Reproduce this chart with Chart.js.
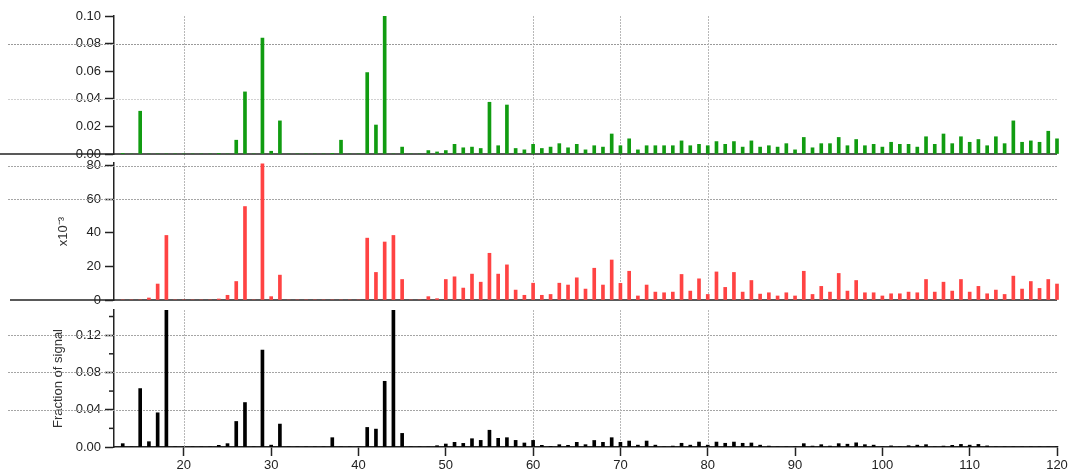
<!DOCTYPE html>
<html>
<head>
<meta charset="utf-8">
<script src="https://cdn.jsdelivr.net/npm/chart.js@4/dist/chart.umd.min.js"></script>
<style>
  body { margin: 0; background: #fff; }
  #wrap { position: relative; width: 1070px; height: 476px; }
  canvas { position: absolute; left: 0; }
</style>
</head>
<body>
<div id="wrap">
  <canvas id="chartTop" width="1070" height="170" style="top:0px"></canvas>
  <canvas id="chartMid" width="1070" height="176" style="top:140px"></canvas>
  <canvas id="chartBot" width="1070" height="186" style="top:290px"></canvas>
</div>
<script>
// m/z values 13..120
const mz = [13, 14, 15, 16, 17, 18, 19, 20, 21, 22, 23, 24, 25, 26, 27, 28, 29, 30, 31, 32,
  33, 34, 35, 36, 37, 38, 39, 40, 41, 42, 43, 44, 45, 46, 47, 48, 49, 50, 51, 52,
  53, 54, 55, 56, 57, 58, 59, 60, 61, 62, 63, 64, 65, 66, 67, 68, 69, 70, 71, 72,
  73, 74, 75, 76, 77, 78, 79, 80, 81, 82, 83, 84, 85, 86, 87, 88, 89, 90, 91, 92,
  93, 94, 95, 96, 97, 98, 99, 100, 101, 102, 103, 104, 105, 106, 107, 108, 109, 110, 111, 112,
  113, 114, 115, 116, 117, 118, 119, 120];

// top panel (green)
const greenVals = [0.0005, 0, 0.031, 0, 0, 0, 0, 0, 0, 0, 0, 0.0005, 0, 0.010, 0.045, 0, 0.084, 0.002, 0.024, 0,
  0, 0, 0, 0, 0.0005, 0.010, 0, 0, 0.059, 0.021, 0.100, 0, 0.005, 0, 0, 0.0025, 0.0015, 0.0025, 0.007, 0.0045,
  0.005, 0.004, 0.0375, 0.006, 0.0355, 0.004, 0.003, 0.007, 0.004, 0.005, 0.0075, 0.0045, 0.007, 0.003, 0.006, 0.005, 0.0145, 0.006, 0.011, 0.003,
  0.006, 0.006, 0.006, 0.006, 0.0095, 0.006, 0.007, 0.006, 0.009, 0.007, 0.009, 0.005, 0.0095, 0.005, 0.006, 0.005, 0.0075, 0.003, 0.012, 0.0045,
  0.0075, 0.0075, 0.012, 0.006, 0.0105, 0.006, 0.007, 0.005, 0.0085, 0.007, 0.007, 0.005, 0.0125, 0.007, 0.0145, 0.0075, 0.0125, 0.0085, 0.0105, 0.006,
  0.0125, 0.0075, 0.024, 0.0085, 0.0095, 0.0085, 0.0165, 0.011];

// middle panel (red), x10^-3
const redVals = [0, 0, 0, 1.2, 9.5, 38.4, 0, 0, 0, 0, 0, 0.6, 2.8, 11, 55.6, 0, 81, 2, 14.8, 0,
  0, 0, 0, 0, 0, 0, 0, 0, 36.8, 16.4, 34.5, 38.4, 12.2, 0, 0, 2, 0.8, 12.2, 13.8, 7.1,
  15.4, 10.6, 27.8, 15.4, 20.9, 5.9, 2.8, 10, 2.8, 3.3, 10, 8.9, 13.2, 6.5, 18.9, 8.9, 23.8, 9.9, 17.1, 2.4,
  8.9, 4.7, 4.3, 4.7, 15.2, 5.3, 12.6, 3.3, 16.7, 7.5, 16.4, 4.7, 11.6, 3.5, 4.3, 2.4, 4.3, 2.4, 17.1, 3.3,
  8.1, 4.7, 15.8, 5.3, 11.6, 4.3, 4.3, 2.4, 3.7, 3.7, 4.7, 4.3, 12.2, 4.7, 10.6, 5.3, 12.2, 4.7, 8.1, 3.7,
  5.9, 3.3, 14.2, 6.5, 11, 6.9, 12.2, 9.5];

// bottom panel (black), fraction of signal
const blackVals = [0.0036, 0, 0.0627, 0.0057, 0.0367, 0.147, 0, 0, 0, 0, 0, 0.0018, 0.0036, 0.0274, 0.0477, 0, 0.104, 0.002, 0.0246, 0,
  0, 0, 0, 0, 0.010, 0, 0, 0, 0.021, 0.0192, 0.0705, 0.147, 0.0146, 0, 0, 0, 0.0014, 0.0032, 0.005, 0.0039,
  0.0089, 0.0071, 0.018, 0.0093, 0.010, 0.0071, 0.0043, 0.0071, 0.0018, 0.0007, 0.0025, 0.0018, 0.005, 0.0025, 0.007, 0.005, 0.010, 0.005, 0.0064, 0.002,
  0.0064, 0.002, 0, 0.001, 0.004, 0.002, 0.0053, 0.002, 0.0053, 0.004, 0.0053, 0.004, 0.0043, 0.002, 0.001, 0, 0, 0, 0.0036, 0.001,
  0.0025, 0.001, 0.0036, 0.003, 0.0045, 0.0025, 0.002, 0, 0.0012, 0, 0.0014, 0.002, 0.0025, 0, 0.001, 0.0018, 0.0028, 0.002, 0.0028, 0.0012,
  0, 0, 0, 0, 0, 0, 0, 0];

const xTicksShown = [20, 30, 40, 50, 60, 70, 80, 90, 100, 110, 120];
const xGridAt = [20, 60, 70, 80];

const FONT = { family: '"Liberation Sans", Arial, sans-serif', size: 13 };
const AXIS = '#222';

// dotted grid lines that run out past the axis, plus separators and minor ticks
const panelDeco = {
  id: 'panelDeco',
  beforeDatasetsDraw(chart, args, o) {
    const c = chart.ctx, a = chart.chartArea;
    const x = chart.scales.x, y = chart.scales.y;
    c.save();
    c.lineWidth = 1;
    c.setLineDash([2, 1]);
    (o.hGrid || []).forEach(g => {
      const py = Math.round(y.getPixelForValue(g.v)) + 0.5;
      c.strokeStyle = g.c;
      c.beginPath(); c.moveTo(8, py); c.lineTo(a.right, py); c.stroke();
    });
    c.strokeStyle = '#b8b8b8';
    xGridAt.forEach(v => {
      const px = Math.round(x.getPixelForValue(v)) + 0.5;
      c.beginPath(); c.moveTo(px, a.top); c.lineTo(px, a.bottom + (o.vExtra || 0)); c.stroke();
    });
    c.setLineDash([]);
    c.strokeStyle = AXIS;
    c.lineWidth = 1.5;
    if (o.sepFrom !== undefined) {
      c.beginPath(); c.moveTo(o.sepFrom, a.bottom); c.lineTo(a.right, a.bottom); c.stroke();
    }
    (o.minor || []).forEach(v => {
      const py = y.getPixelForValue(v);
      c.beginPath(); c.moveTo(a.left - 5, py); c.lineTo(a.left, py); c.stroke();
    });
    c.restore();
  }
};

function makeChart(id, vals, color, yOpts, layoutPad, deco, showX) {
  const pts = mz.map((m, i) => ({ x: m, y: vals[i] }));
  return new Chart(document.getElementById(id), {
    type: 'bar',
    data: {
      datasets: [{
        data: pts,
        backgroundColor: color,
        borderWidth: 0,
        barThickness: 3,
        grouped: false,
        clip: { left: 0, top: 0, right: 3, bottom: 0 }
      }]
    },
    options: {
      responsive: false,
      animation: false,
      events: [],
      layout: { padding: layoutPad },
      plugins: { legend: { display: false }, tooltip: { enabled: false }, panelDeco: deco },
      scales: {
        x: {
          type: 'linear',
          offset: false,
          display: showX,
          min: 12,
          max: 120,
          afterBuildTicks: s => { s.ticks = xTicksShown.map(v => ({ value: v })); },
          afterFit: s => { if (showX) s.height = 29; },
          grid: { drawOnChartArea: false, offset: false, tickLength: 9, tickColor: AXIS, tickWidth: 1.5 },
          border: { color: AXIS, width: 1.5 },
          ticks: { color: AXIS, font: FONT, padding: 2, maxRotation: 0, includeBounds: false }
        },
        y: Object.assign({
          grid: { drawOnChartArea: false, tickLength: 9, tickColor: AXIS, tickWidth: 1.5 },
          border: { color: AXIS, width: 1.5 }
        }, yOpts)
      }
    },
    plugins: [panelDeco]
  });
}

makeChart('chartTop', greenVals, '#119c11', {
  min: 0, max: 0.10,
  afterFit: s => { s.width = 114; },
  ticks: { stepSize: 0.02, color: AXIS, font: FONT, padding: 4, includeBounds: false,
    callback: v => v.toFixed(2) }
}, { left: 0, right: 13, top: 16, bottom: 16 },
{ hGrid: [{ v: 0.08, c: '#9a9a9a' }, { v: 0.04, c: '#d0d0d0' }], sepFrom: 0, vExtra: 6 }, false);

makeChart('chartMid', redVals, '#ff4343', {
  min: 0, max: 81.5,
  afterFit: s => { s.width = 62; },
  title: { display: true, text: 'x10\u207B\u00B3', color: '#333', font: FONT, padding: { top: 4, bottom: 0 } },
  ticks: { stepSize: 20, color: AXIS, font: FONT, padding: 4, includeBounds: false }
}, { left: 52, right: 13, top: 23, bottom: 16 },
{ hGrid: [{ v: 80, c: '#a5a5a5' }, { v: 60, c: '#a5a5a5' }], sepFrom: 10 }, false);

makeChart('chartBot', blackVals, '#000000', {
  min: 0, max: 0.147,
  afterFit: s => { s.width = 67; },
  title: { display: true, text: 'Fraction of signal', color: '#333', font: FONT, padding: { top: 4, bottom: 0 } },
  ticks: { stepSize: 0.04, color: AXIS, font: FONT, padding: 4, includeBounds: false,
    callback: v => v.toFixed(2) }
}, { left: 47, right: 13, top: 20, bottom: 0 },
{ hGrid: [{ v: 0.12, c: '#a5a5a5' }, { v: 0.08, c: '#a5a5a5' }, { v: 0.04, c: '#a5a5a5' }], minor: [0.02, 0.06, 0.10, 0.14] }, true);
</script>
</body>
</html>
